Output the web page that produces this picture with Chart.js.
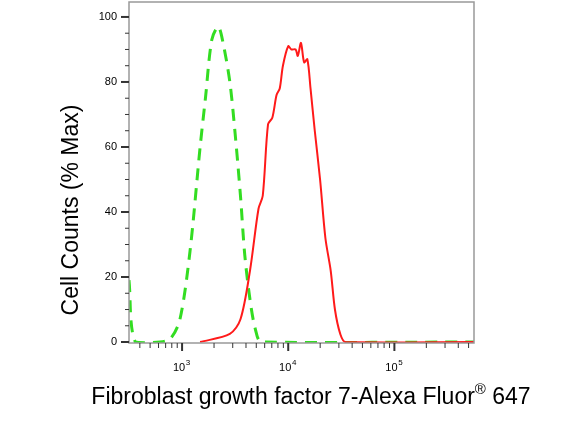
<!DOCTYPE html>
<html><head><meta charset="utf-8">
<script src="https://cdn.jsdelivr.net/npm/chart.js@4"></script>
<style>html,body{margin:0;padding:0;background:#fff}#w{width:582px;height:429px}</style>
</head><body><div id="w"><canvas id="c"></canvas></div>
<script>
// x values are log10 of fluorescence intensity
const redX = [3.17,3.45,3.55,3.64,3.72,3.76,3.81,3.85,3.89,3.92,3.95,4.0,4.03,4.07,4.09,4.12,4.15,4.18,4.21,4.25,4.3,4.35,4.4,4.44,4.49,4.54,5.75];
const redY = [0,2.5,7,22,41,45,67,69,76,78,85,91,90,90,88,92,86,87,78,65,50,32,22,10,2.5,0,0];
const greenX = [2.5,2.56,2.79,2.89,2.98,3.075,3.17,3.22,3.28,3.34,3.38,3.45,3.5,3.55,3.59,3.64,3.69,3.75,5.75];
const greenY = [19,0,0,1,7,28,60,75,93,97,93,80,64,45,27,13,4,0,0];
const yTicks = [0,20,40,60,80,100];
const xDecades = [3,4,5];
const xMin = 2.5, xMax = 5.75, yMin = -0.3, yMax = 104.6;

const toPts = (xs, ys) => xs.map((x, i) => ({x, y: ys[i]}));
const axisPlugin = {
  id: 'axes',
  afterDraw(chart) {
    const {ctx, chartArea: a, scales: {x, y}} = chart;
    ctx.save();
    ctx.strokeStyle = '#999'; ctx.lineWidth = 1.5;
    ctx.strokeRect(a.left, a.top, a.right - a.left, a.bottom - a.top);
    ctx.strokeStyle = '#333'; ctx.fillStyle = '#000';
    ctx.font = '11px "Liberation Sans", Arial';
    ctx.textAlign = 'right'; ctx.textBaseline = 'middle';
    for (let v = 0; v <= 100; v += 5) {
      const py = y.getPixelForValue(v);
      const major = yTicks.includes(v);
      ctx.lineWidth = major ? 2 : 1;
      ctx.beginPath(); ctx.moveTo(a.left, py); ctx.lineTo(a.left - (major ? 8 : 4), py); ctx.stroke();
      if (major) ctx.fillText(String(v), a.left - 12, py);
    }
    for (let d = 2; d <= 5; d++) {
      for (let m = 1; m <= 9; m++) {
        const lv = d + Math.log10(m);
        if (lv < xMin || lv > xMax) continue;
        const px = x.getPixelForValue(lv);
        const major = m === 1;
        ctx.lineWidth = major ? 2 : 1;
        ctx.beginPath(); ctx.moveTo(px, a.bottom); ctx.lineTo(px, a.bottom + (major ? 8 : 5)); ctx.stroke();
      }
    }
    ctx.textAlign = 'center'; ctx.textBaseline = 'alphabetic';
    xDecades.forEach(d => {
      const px = x.getPixelForValue(d);
      ctx.font = '11px "Liberation Sans", Arial';
      ctx.fillText('10', px - 3, a.bottom + 28);
      ctx.font = '8px "Liberation Sans", Arial';
      ctx.fillText(String(d), px + 6, a.bottom + 22);
    });
    ctx.font = '23px "Liberation Sans", Arial';
    ctx.textAlign = 'left';
    const t1 = 'Fibroblast growth factor 7-Alexa Fluor', t2 = '®', t3 = ' 647';
    const w1 = ctx.measureText(t1).width;
    ctx.font = '15px "Liberation Sans", Arial';
    const w2 = ctx.measureText(t2).width;
    ctx.font = '23px "Liberation Sans", Arial';
    const w3 = ctx.measureText(t3).width;
    let sx = 311 - (w1 + w2 + w3) / 2;
    ctx.fillText(t1, sx, 404);
    ctx.font = '15px "Liberation Sans", Arial';
    ctx.fillText(t2, sx + w1, 394);
    ctx.font = '23px "Liberation Sans", Arial';
    ctx.fillText(t3, sx + w1 + w2, 404);
    ctx.translate(72, 210); ctx.rotate(-Math.PI / 2);
    ctx.textAlign = 'center'; ctx.textBaseline = 'middle';
    ctx.fillText('Cell Counts (% Max)', 0, 0);
    ctx.restore();
  }
};
new Chart(document.getElementById('c'), {
  type: 'line',
  data: { datasets: [
    { data: toPts(redX, redY), borderColor: '#ff1a1a', borderWidth: 2, pointRadius: 0, tension: 0.3, fill: false },
    { data: toPts(greenX, greenY), borderColor: '#33dd22', borderWidth: 3, borderDash: [12, 8], pointRadius: 0, tension: 0.3, fill: false }
  ]},
  options: {
    responsive: true, maintainAspectRatio: false, animation: false,
    layout: { padding: { left: 129, right: 108, top: 2, bottom: 86 } },
    plugins: { legend: { display: false }, tooltip: { enabled: false } },
    scales: {
      x: { type: 'linear', min: xMin, max: xMax, display: false },
      y: { min: yMin, max: yMax, display: false }
    }
  },
  plugins: [axisPlugin]
});
</script></body></html>
